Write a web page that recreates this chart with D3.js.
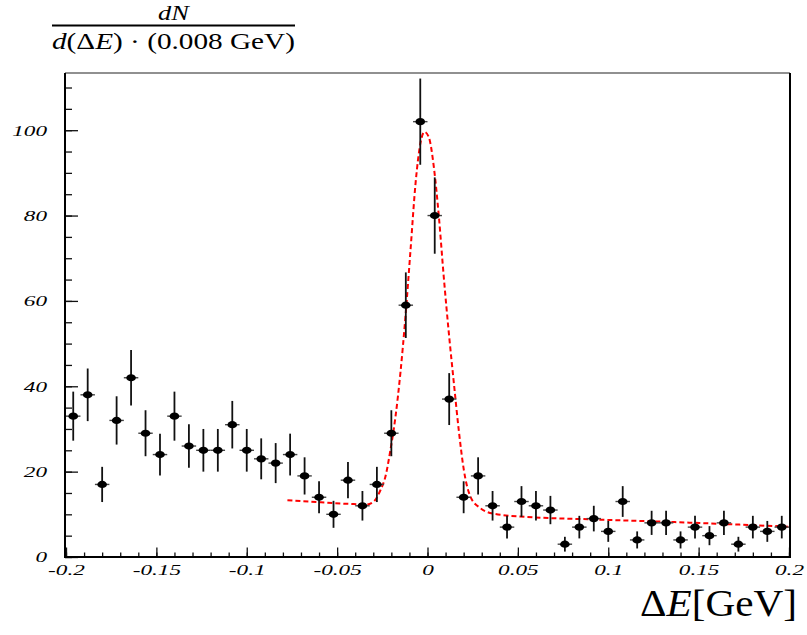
<!DOCTYPE html>
<html>
<head>
<meta charset="utf-8">
<script src="https://cdn.jsdelivr.net/npm/d3@7"></script>
<style>
  html, body { margin: 0; padding: 0; background: #fff; }
  svg { display: block; }
  text { font-family: "Liberation Serif", "Times New Roman", serif; }
</style>
</head>
<body>
<svg id="chart" width="807" height="635"></svg>
<script>
// ---------------- data ----------------
const binCenters = [-0.196,-0.188,-0.180,-0.172,-0.164,-0.156,-0.148,-0.140,-0.132,-0.124,
  -0.116,-0.108,-0.100,-0.092,-0.084,-0.076,-0.068,-0.060,-0.052,-0.044,
  -0.036,-0.028,-0.020,-0.012,-0.004,0.004,0.012,0.020,0.028,0.036,
  0.044,0.052,0.060,0.068,0.076,0.084,0.092,0.100,0.108,0.116,
  0.124,0.132,0.140,0.148,0.156,0.164,0.172,0.180,0.188,0.196];
const counts = [33,38,17,32,42,29,24,33,26,25,
  25,31,25,23,22,24,19,14,10,18,
  12,17,29,59,102,80,37,14,19,12,
  7,13,12,11,3,7,9,6,13,4,
  8,8,4,7,5,8,3,7,6,7];
const binWidth = 0.008;

// fit curve (Gaussian signal + background)
const fitX = [-0.0775,-0.059,-0.041,-0.0335,-0.0297,-0.026,-0.0233,-0.0205,-0.0177,-0.0150,
  -0.0122,-0.0094,-0.0066,-0.0039,-0.0017,0.0007,0.0035,0.0063,0.0090,0.0118,
  0.0146,0.0173,0.0201,0.0238,0.0294,0.037,0.055,0.092,0.129,0.166,0.2];
const fitY = [13.3,12.8,12.4,12.3,13.0,15.7,18.8,25.1,32.9,43.1,
  56.3,71.9,87.6,97.0,99.6,98.4,91.4,79.7,65.6,52.5,
  40.7,29.7,20.4,14.1,11.4,10.1,9.4,8.8,8.3,7.7,7.1];

const xTickValues = [-0.2,-0.15,-0.1,-0.05,0,0.05,0.1,0.15,0.2];
const xTickLabels = ["-0.2","-0.15","-0.1","-0.05","0","0.05","0.1","0.15","0.2"];
const yTickValues = [0,20,40,60,80,100];
const yTickLabels = ["0","20","40","60","80","100"];

// ---------------- layout ----------------
const svg = d3.select("#chart");
const L = 65, R = 790, T = 73, B = 557;
const x = d3.scaleLinear().domain([-0.2, 0.2]).range([66, 789]);
const y = d3.scaleLinear().domain([0, 113.4]).range([B, T]);
const labelStretch = 1.55;

// minor ticks
const xMinor = d3.range(-20, 21).map(d => d / 100);
const yMinor = d3.range(0, 114, 5);

// axes (ticks point inward)
const xAxisMinor = d3.axisBottom(x).tickValues(xMinor).tickSize(-4.5).tickFormat("");
const xAxisMajor = d3.axisBottom(x).tickValues(xTickValues).tickSize(-9.5)
  .tickFormat((d, i) => xTickLabels[i]).tickPadding(0);
const yAxisMinor = d3.axisLeft(y).tickValues(yMinor).tickSize(-7).tickFormat("");
const yAxisMajor = d3.axisLeft(y).tickValues(yTickValues).tickSize(-13)
  .tickFormat((d, i) => yTickLabels[i]);

function styleAxis(g) {
  g.select(".domain").remove();
  g.selectAll(".tick line").attr("stroke", "#111").attr("stroke-width", 1.3);
}

svg.append("g").attr("transform", `translate(0,${B})`).call(xAxisMinor).call(styleAxis);
const gx = svg.append("g").attr("transform", `translate(0,${B})`).call(xAxisMajor).call(styleAxis);
gx.selectAll(".tick text")
  .attr("y", 0).attr("dy", null)
  .attr("font-family", "Liberation Serif, serif")
  .attr("font-style", "italic")
  .attr("font-size", 15)
  .attr("fill", "#000")
  .attr("transform", `translate(0,18) scale(${labelStretch},1)`);

svg.append("g").attr("transform", `translate(${L},0)`).call(yAxisMinor).call(styleAxis);
const gy = svg.append("g").attr("transform", `translate(${L},0)`).call(yAxisMajor).call(styleAxis);
gy.selectAll(".tick text")
  .attr("x", 0).attr("dy", "0.33em")
  .attr("font-family", "Liberation Serif, serif")
  .attr("font-style", "italic")
  .attr("font-size", 15)
  .attr("fill", "#000")
  .attr("text-anchor", "end")
  .attr("transform", `translate(-18,0) scale(${labelStretch},1)`);

// frame
svg.append("line").attr("x1", L).attr("x2", R).attr("y1", T).attr("y2", T)
  .attr("stroke", "#222").attr("stroke-width", 1.2);
svg.append("line").attr("x1", R).attr("x2", R).attr("y1", T).attr("y2", B + 1)
  .attr("stroke", "#000").attr("stroke-width", 2);
svg.append("line").attr("x1", L).attr("x2", L).attr("y1", T).attr("y2", B + 1)
  .attr("stroke", "#000").attr("stroke-width", 2);
svg.append("line").attr("x1", L - 1).attr("x2", R + 1).attr("y1", B).attr("y2", B)
  .attr("stroke", "#000").attr("stroke-width", 2);

// fit curve
const fitData = fitX.map((v, i) => [v, fitY[i]]);
svg.append("path")
  .datum(fitData)
  .attr("fill", "none")
  .attr("stroke", "#ff0000")
  .attr("stroke-width", 2)
  .attr("stroke-dasharray", "5,3")
  .attr("d", d3.line().x(d => x(d[0])).y(d => y(d[1])).curve(d3.curveMonotoneX));

// data points with error bars
const pts = binCenters.map((c, i) => ({c, n: counts[i]}));
const gp = svg.append("g");
gp.selectAll("line.h").data(pts).join("line").attr("class", "h")
  .attr("x1", d => x(d.c - binWidth / 2)).attr("x2", d => x(d.c + binWidth / 2))
  .attr("y1", d => y(d.n)).attr("y2", d => y(d.n))
  .attr("stroke", "#444").attr("stroke-width", 1.4);
gp.selectAll("line.v").data(pts).join("line").attr("class", "v")
  .attr("x1", d => x(d.c)).attr("x2", d => x(d.c))
  .attr("y1", d => y(d.n + Math.sqrt(d.n))).attr("y2", d => y(Math.max(0, d.n - Math.sqrt(d.n))))
  .attr("stroke", "#111").attr("stroke-width", 1.8);
gp.selectAll("ellipse").data(pts).join("ellipse")
  .attr("cx", d => x(d.c)).attr("cy", d => y(d.n))
  .attr("rx", 4.8).attr("ry", 3.6).attr("fill", "#000");

// ---------------- titles ----------------
function stretchTo(sel, ax, ay, width) {
  const w = sel.node().getBBox().width;
  sel.attr("transform", `translate(${ax},${ay}) scale(${width / w},1)`);
}

// y title as a fraction
const num = svg.append("text").attr("text-anchor", "middle").attr("font-size", 20);
num.append("tspan").attr("font-style", "italic").text("dN");
stretchTo(num, 173.5, 19.5, 33);

svg.append("line").attr("x1", 52).attr("x2", 295).attr("y1", 25.5).attr("y2", 25.5)
  .attr("stroke", "#000").attr("stroke-width", 1.8);

const den = svg.append("text").attr("text-anchor", "start").attr("font-size", 24);
den.append("tspan").attr("font-style", "italic").text("d");
den.append("tspan").text("(Δ");
den.append("tspan").attr("font-style", "italic").text("E");
den.append("tspan").text(") · (0.008 GeV)");
stretchTo(den, 52, 49, 243);

// x title
const xt = svg.append("text").attr("text-anchor", "end").attr("font-size", 37);
xt.append("tspan").text("Δ");
xt.append("tspan").attr("font-style", "italic").text("E");
xt.append("tspan").text("[GeV]");
stretchTo(xt, 797, 616, 157);
</script>
</body>
</html>
